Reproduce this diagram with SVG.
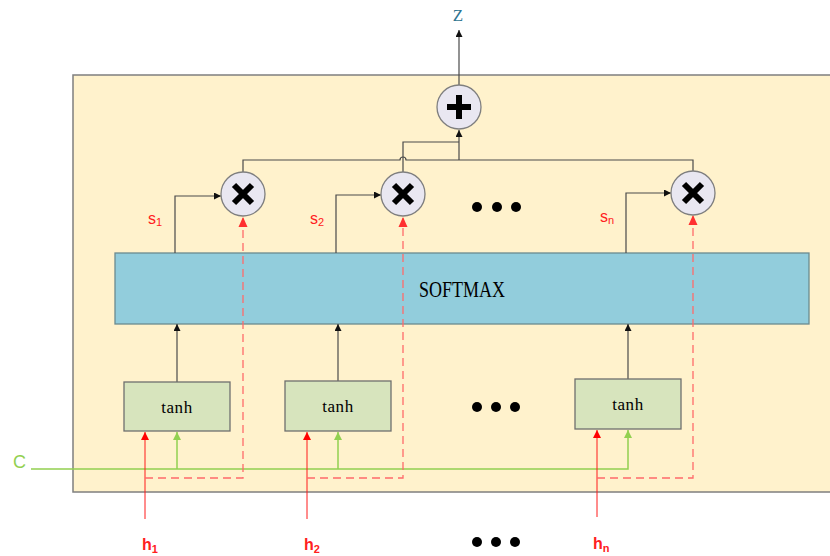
<svg xmlns="http://www.w3.org/2000/svg" width="830" height="556" viewBox="0 0 830 556">
<style>
.bg{fill:#fff2cc;stroke:#7f7f7f;stroke-width:1.5}
.op{fill:#e9e7f1;stroke:#7f7f7f;stroke-width:1.3}
.sym{stroke:#000;stroke-width:6;fill:none}
.sm{fill:#92cddc;stroke:#6b8a90;stroke-width:1.3}
.th{fill:#d7e4bd;stroke:#6f6f6f;stroke-width:1.3}
.ln{fill:none;stroke:#4a4a4a;stroke-width:1.2}
.rs{fill:none;stroke:#ff1a1a;stroke-width:1}
.rd{fill:none;stroke:#ff6a6a;stroke-width:1.3;stroke-dasharray:8 5}
.gl{fill:none;stroke:#92d050;stroke-width:1.5}
.serif{font-family:"Liberation Serif","DejaVu Serif",serif}
.tt{font-family:"Liberation Serif","DejaVu Serif",serif;font-size:17px;letter-spacing:0.6px}
.lbl{font-family:"Liberation Sans",Arial,sans-serif;fill:#ff2020}
.dot{fill:#000}
</style>
<defs>
<marker id="ak" viewBox="0 0 10 10" refX="10" refY="5" markerWidth="7" markerHeight="7" markerUnits="userSpaceOnUse" orient="auto"><path d="M0,0 L10,5 L0,10 z" fill="#111"/></marker>
<marker id="ar" viewBox="0 0 10 10" refX="10" refY="5" markerWidth="9" markerHeight="8" markerUnits="userSpaceOnUse" orient="auto"><path d="M0,0 L10,5 L0,10 z" fill="#ff0000"/></marker>
<marker id="ag" viewBox="0 0 10 10" refX="10" refY="5" markerWidth="9" markerHeight="8" markerUnits="userSpaceOnUse" orient="auto"><path d="M0,0 L10,5 L0,10 z" fill="#92d050"/></marker>
</defs>
<rect class="bg" x="73" y="75" width="770" height="417"/>
<g id="softmax"><rect class="sm" x="115" y="253" width="694" height="71"/><text class="serif" x="462" y="297" font-size="23" text-anchor="middle" textLength="86" lengthAdjust="spacingAndGlyphs">SOFTMAX</text></g>
<g id="connectors">
<path class="ln" d="M459,85 V30" marker-end="url(#ak)"/>
<path class="ln" d="M459,160 V130" marker-end="url(#ak)"/>
<path class="ln" d="M243,172 V160 H400 a3,3 0 0 1 6,0 H693 V171"/>
<path class="ln" d="M403,172 V142 H459"/>
<path class="ln" d="M175,253 V196 H221" marker-end="url(#ak)"/>
<path class="ln" d="M336,253 V195 H381" marker-end="url(#ak)"/>
<path class="ln" d="M626,253 V193 H671" marker-end="url(#ak)"/>
<path class="ln" d="M177,382 V324" marker-end="url(#ak)"/>
<path class="ln" d="M338,381 V324" marker-end="url(#ak)"/>
<path class="ln" d="M628,379 V324" marker-end="url(#ak)"/>
<path class="gl" d="M31,469 H628 V430" marker-end="url(#ag)"/>
<path class="gl" d="M177,469 V432" marker-end="url(#ag)"/>
<path class="gl" d="M338,469 V432" marker-end="url(#ag)"/>
<path class="rs" d="M145,519 V432" marker-end="url(#ar)"/>
<path class="rs" d="M307,519 V432" marker-end="url(#ar)"/>
<path class="rs" d="M597,517 V430" marker-end="url(#ar)"/>
<path class="rd" d="M145,478 H243 V218"/>
<path class="rd" d="M307,478 H403 V218"/>
<path class="rd" d="M597,478 H693 V216"/>
<path d="M243,217 L238.5,227 H247.5 z" fill="#ff3030"/>
<path d="M403,217 L398.5,227 H407.5 z" fill="#ff3030"/>
<path d="M693,215 L688.5,225 H697.5 z" fill="#ff3030"/>
</g>
<g id="plus"><circle class="op" cx="459" cy="107" r="22"/><path class="sym" d="M447,107 H471 M459,95 V119" stroke-width="6.5"/></g>
<g id="mul1"><circle class="op" cx="243" cy="194" r="22"/><path class="sym" d="M234,185 L252,203 M252,185 L234,203"/></g>
<g id="mul2"><circle class="op" cx="403" cy="194" r="22"/><path class="sym" d="M394,185 L412,203 M412,185 L394,203"/></g>
<g id="mul3"><circle class="op" cx="693" cy="193" r="22"/><path class="sym" d="M684,184 L702,202 M702,184 L684,202"/></g>
<g id="tanh1"><rect class="th" x="124" y="382" width="106" height="49"/><text class="tt" x="177" y="413" text-anchor="middle">tanh</text></g>
<g id="tanh2"><rect class="th" x="285" y="381" width="106" height="50"/><text class="tt" x="338" y="412" text-anchor="middle">tanh</text></g>
<g id="tanh3"><rect class="th" x="575" y="379" width="106" height="50"/><text class="tt" x="628" y="410" text-anchor="middle">tanh</text></g>
<g id="labels">
<text class="serif" x="458" y="21" font-size="17" fill="#2f7490" text-anchor="middle">Z</text>
<text x="13" y="468" font-size="18" fill="#92d050" font-family="Liberation Sans,Arial,sans-serif">C</text>
<text class="lbl" x="148" y="224" font-size="16">s<tspan font-size="11" dy="2">1</tspan></text>
<text class="lbl" x="310" y="224" font-size="16">s<tspan font-size="11" dy="2">2</tspan></text>
<text class="lbl" x="600" y="222" font-size="16">s<tspan font-size="11" dy="2">n</tspan></text>
<text class="lbl" x="142" y="550" font-size="16" font-weight="bold">h<tspan font-size="11" dy="3">1</tspan></text>
<text class="lbl" x="304" y="550" font-size="16" font-weight="bold">h<tspan font-size="11" dy="3">2</tspan></text>
<text class="lbl" x="593" y="549" font-size="16" font-weight="bold">h<tspan font-size="11" dy="3">n</tspan></text>
</g>
<g id="ellipses">
<circle class="dot" cx="477" cy="207" r="5"/><circle class="dot" cx="497" cy="207" r="5"/><circle class="dot" cx="516" cy="207" r="5"/>
<circle class="dot" cx="477" cy="407" r="5"/><circle class="dot" cx="496" cy="407" r="5"/><circle class="dot" cx="515" cy="407" r="5"/>
<circle class="dot" cx="477" cy="542" r="5"/><circle class="dot" cx="496" cy="542" r="5"/><circle class="dot" cx="515" cy="542" r="5"/>
</g>
</svg>
